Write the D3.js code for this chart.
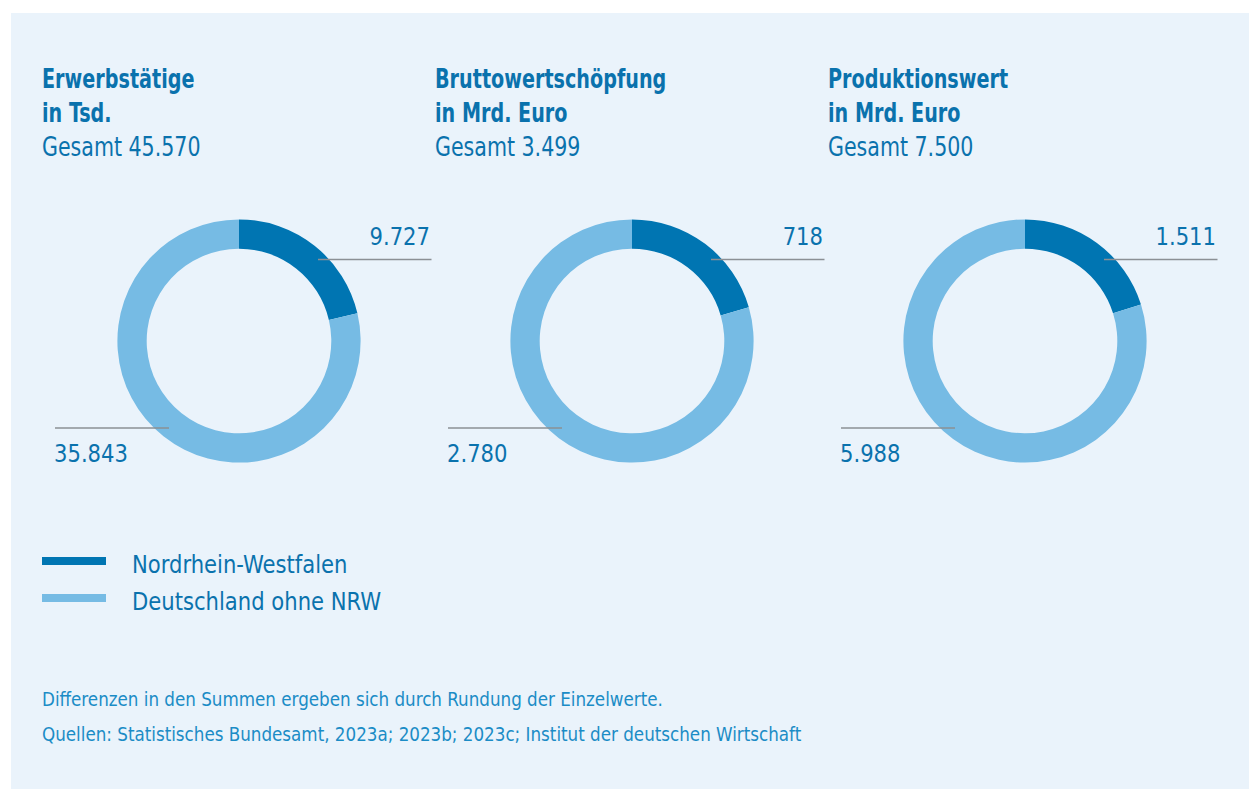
<!DOCTYPE html>
<html><head><meta charset="utf-8">
<script src="https://cdn.jsdelivr.net/npm/d3@7"></script>
<style>
html,body{margin:0;padding:0;background:#fff;}
svg{display:block;}
text{font-family:"DejaVu Sans Condensed","DejaVu Sans",sans-serif;font-stretch:condensed;}
</style></head>
<body><svg id="c" width="1249" height="789"></svg>
<script>
const categories = ["Erwerbstätige", "Bruttowertschöpfung", "Produktionswert"];
const units = ["in Tsd.", "in Mrd. Euro", "in Mrd. Euro"];
const totals = [45570, 3499, 7500];
const nrwValues = [9727, 718, 1511];
const restValues = [35843, 2780, 5988];
const seriesNames = ["Nordrhein-Westfalen", "Deutschland ohne NRW"];
const footnotes = [
  "Differenzen in den Summen ergeben sich durch Rundung der Einzelwerte.",
  "Quellen: Statistisches Bundesamt, 2023a; 2023b; 2023c; Institut der deutschen Wirtschaft"
];

const de = d3.formatLocale({decimal: ",", thousands: ".", grouping: [3], currency: ["", " €"]});
const fmt = de.format(",d");

const colNRW = "#0075b2", colRest = "#76bbe4", textCol = "#0a72ad", footCol = "#1b8cc6", lineCol = "#8b9095";
const svg = d3.select("#c");
svg.append("rect").attr("x", 11).attr("y", 13).attr("width", 1238).attr("height", 776).attr("fill", "#eaf3fb");

function txt(parent, x, y, sx, str, size, opts = {}) {
  const t = parent.append("text")
    .attr("transform", `translate(${x},${y}) scale(${sx},1)`)
    .attr("fill", opts.fill || textCol)
    .attr("font-size", size)
    .text(str);
  if (opts.bold) t.attr("font-weight", "bold");
  if (opts.anchor) t.attr("text-anchor", opts.anchor);
  return t;
}

const colX = d3.scalePoint().domain(categories).range([239, 1025]);
const color = d3.scaleOrdinal().domain(seriesNames).range([colNRW, colRest]);
const pie = d3.pie().sort(null).value(d => d.value);
const arc = d3.arc().innerRadius(92.3).outerRadius(121.6);
const cy = 341;

categories.forEach((cat, i) => {
  const cx = colX(cat);
  const tx = cx - 197;
  const g = svg.append("g");
  txt(g, tx, 88, 0.82, cat, 26, {bold: true});
  txt(g, tx, 122, 0.82, units[i], 26, {bold: true});
  txt(g, tx, 156, 0.88, "Gesamt " + fmt(totals[i]), 26);

  const data = [{name: seriesNames[0], value: nrwValues[i]}, {name: seriesNames[1], value: restValues[i]}];
  const dg = g.append("g").attr("transform", `translate(${cx},${cy})`);
  dg.selectAll("path").data(pie(data)).join("path").attr("d", arc).attr("fill", d => color(d.data.name));

  // leader lines
  dg.append("line").attr("x1", 79).attr("x2", 192.5).attr("y1", -81.5).attr("y2", -81.5).attr("stroke", lineCol).attr("stroke-width", 1.3);
  dg.append("line").attr("x1", -184).attr("x2", -70).attr("y1", 87).attr("y2", 87).attr("stroke", lineCol).attr("stroke-width", 1.3);
  txt(dg, 191, -96, 0.94, fmt(nrwValues[i]), 25, {anchor: "end"});
  txt(dg, -185, 120.5, 0.94, fmt(restValues[i]), 25);
});

// legend
const lg = svg.append("g");
seriesNames.forEach((s, i) => {
  const y = 561 + i * 37;
  lg.append("rect").attr("x", 42).attr("y", y - 4).attr("width", 64).attr("height", 8).attr("fill", color(s));
  txt(lg, 132, y + 12, 0.94, s, 25);
});

footnotes.forEach((t, i) => {
  txt(svg, 42, 706 + i * 35, 0.98, t, 19, {fill: footCol});
});
</script></body></html>
